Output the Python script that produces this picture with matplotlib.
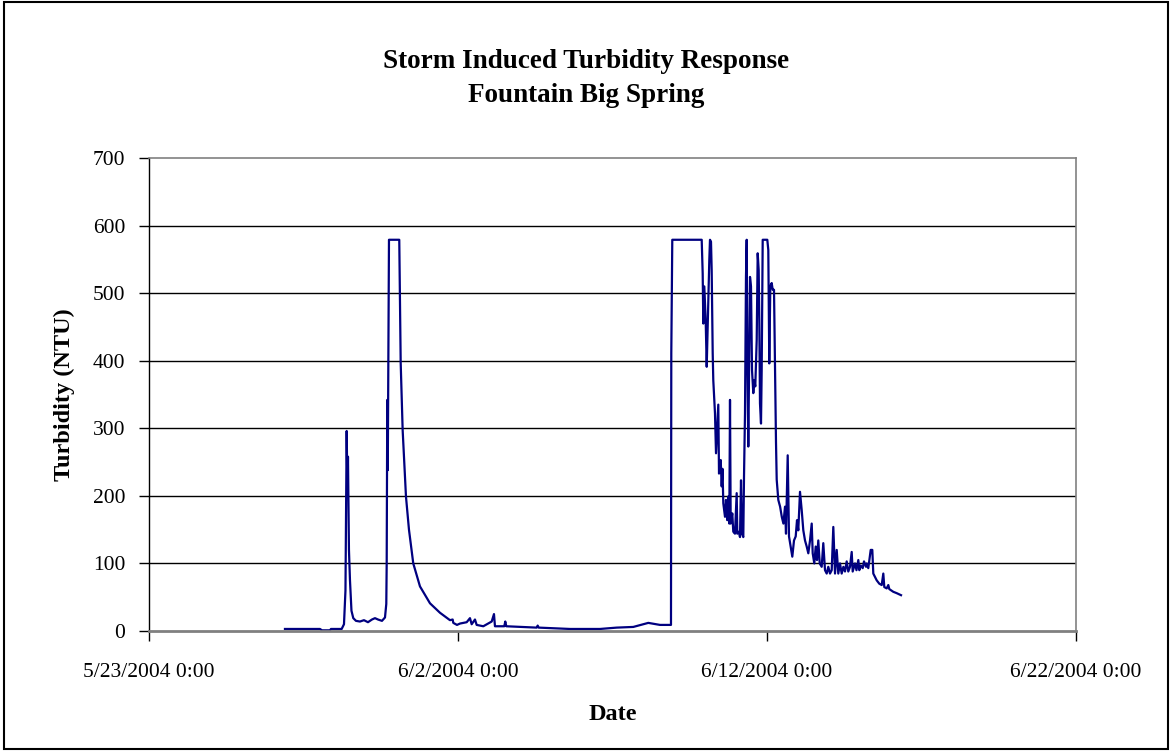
"""
Storm induced turbidity response at Fountain Big Spring,
drawn as an Excel-style line chart.
"""

from datetime import datetime, timedelta

import matplotlib
matplotlib.use("Agg")
import matplotlib.pyplot as plt
import matplotlib.dates as mdates
from matplotlib.patches import Rectangle

START = datetime(2004, 5, 23)

# days elapsed since 5/23/2004 0:00
elapsed_days = [
    # first storm
    4.401, 5.534, 5.599, 5.858, 5.890, 6.236, 6.311, 6.359, 6.398, 6.424,
    6.440, 6.472, 6.505, 6.553, 6.612, 6.699, 6.828, 6.958, 7.087, 7.217,
    7.314, 7.411, 7.540, 7.638, 7.680, 7.693, 7.712, 7.728, 7.767, 8.100,
    8.123, 8.146, 8.210, 8.317, 8.414, 8.553, 8.770, 9.094, 9.417, 9.741,
    9.828, 9.848, 9.968,
    # base flow
    10.065, 10.282, 10.388, 10.443, 10.550, 10.605, 10.819, 11.091, 11.165,
    11.197, 11.498, 11.531, 11.563, 12.547, 12.579, 12.612, 13.625, 14.595,
    15.136, 15.673, 16.159, 16.537, 16.883,
    # second storm
    16.893, 16.903, 16.935, 17.887, 17.919, 17.939, 17.971, 18.016, 18.049,
    18.100, 18.133, 18.155, 18.188, 18.210, 18.243, 18.262, 18.317, 18.350,
    18.424, 18.447, 18.502, 18.534, 18.560, 18.586, 18.641, 18.673, 18.715,
    18.748, 18.780, 18.803, 18.825, 18.877, 18.909, 18.964, 19.019, 19.039,
    19.094, 19.126, 19.159, 19.191, 19.233, 19.256, 19.288, 19.320, 19.343,
    19.362, 19.395, 19.427, 19.450, 19.482, 19.515, 19.557, 19.589, 19.621,
    19.667, 19.699, 19.731, 19.751, 19.773, 19.806, 19.828, 19.861, 20.010,
    20.042, 20.074, 20.107, 20.152, 20.184, 20.227, 20.259,
    # recession
    20.291, 20.314, 20.366, 20.424, 20.479, 20.531, 20.583, 20.615, 20.670,
    20.712, 20.767, 20.819, 20.874, 20.929, 20.971, 21.013, 21.068, 21.123,
    21.175, 21.230, 21.285, 21.337, 21.392, 21.447, 21.479, 21.531, 21.576,
    21.618, 21.660, 21.706, 21.770, 21.822, 21.877, 21.932, 21.984, 22.039,
    22.094, 22.146, 22.201, 22.256, 22.307, 22.362, 22.417, 22.472, 22.524,
    22.579, 22.631, 22.686, 22.741, 22.773, 22.848, 22.896, 22.955, 22.987,
    23.032, 23.097, 23.139, 23.204, 23.227, 23.278, 23.356, 23.408, 23.440,
    23.495, 23.550, 23.634, 23.712, 23.764, 23.796, 23.874, 23.926, 23.958,
    24.087, 24.197, 24.337,
]

turbidity = [
    # first storm
    3, 3, 1, 1, 3, 3, 10, 60, 296, 200,
    258, 120, 75, 30, 19, 15, 14, 16, 13, 17,
    19, 17, 15, 20, 40, 100, 342, 238, 579, 579,
    490, 397, 297, 199, 150, 100, 66, 41, 27, 16,
    17, 12, 9,
    # base flow
    11, 13, 19, 10, 17, 9, 7, 14, 25,
    7, 7, 14, 7, 5, 8, 5, 3, 3,
    5, 6, 12, 9, 9,
    # second storm
    9, 411, 579, 579, 529, 455, 510, 460, 391,
    485, 549, 579, 576, 534, 411, 371, 322, 263,
    335, 233, 253, 214, 240, 189, 169, 194, 164,
    199, 159, 342, 159, 174, 147, 144, 204, 144,
    147, 139, 223, 144, 139, 228, 322, 524, 579,
    411, 273, 421, 524, 510, 386, 352, 371, 362,
    431, 559, 534, 460, 337, 307, 386, 579, 579,
    564, 396, 510, 515, 505, 505, 386,
    # recession
    280, 224, 194, 184, 169, 159, 184, 144, 260,
    140, 125, 110, 134, 140, 164, 149, 206, 179,
    149, 134, 125, 115, 134, 159, 115, 100, 125,
    105, 134, 100, 95, 130, 90, 85, 95, 85,
    90, 154, 85, 120, 85, 100, 85, 95, 88,
    103, 88, 95, 117, 88, 100, 90, 105, 90,
    97, 93, 103, 95, 100, 93, 120, 120, 85,
    80, 75, 70, 68, 85, 65, 63, 68, 62,
    58, 56, 53,
]

tick_days = [0, 10, 20, 30]
y_ticks = [0, 100, 200, 300, 400, 500, 600, 700]

plt.rcParams["font.family"] = ["Liberation Serif", "DejaVu Serif"]

fig = plt.figure(figsize=(11.72, 7.51), dpi=100)
ax = fig.add_axes([0.1271, 0.1598, 0.7910, 0.6298])

times = [START + timedelta(days=d) for d in elapsed_days]
ax.plot(times, turbidity, color="#000080", linewidth=1.6)

ax.set_xlim(START, START + timedelta(days=30))
ax.set_ylim(0, 700)

tick_dates = [START + timedelta(days=d) for d in tick_days]
ax.set_xticks([mdates.date2num(t) for t in tick_dates])
ax.set_xticklabels([f"{t.month}/{t.day}/{t.year} 0:00" for t in tick_dates])
ax.set_yticks(y_ticks)

ax.tick_params(axis="x", direction="out", length=7, width=1, pad=16,
               labelsize=15.5, color="black")
ax.tick_params(axis="y", direction="out", length=7, width=1, pad=10,
               labelsize=15.5, color="black")

for y in y_ticks[1:-1]:
    ax.axhline(y, color="black", linewidth=1, zorder=0)

ax.spines["left"].set_color("black")
ax.spines["left"].set_linewidth(1)
ax.spines["bottom"].set_color("#808080")
ax.spines["bottom"].set_linewidth(2)
ax.spines["top"].set_color("#808080")
ax.spines["top"].set_linewidth(1.2)
ax.spines["right"].set_color("#808080")
ax.spines["right"].set_linewidth(1.2)

ax.set_xlabel("Date", fontsize=17.5, fontweight="bold", labelpad=16)
ax.set_ylabel("Turbidity (NTU)", fontsize=17.5, fontweight="bold", labelpad=13)

fig.text(0.5, 1 - 61 / 751, "Storm Induced Turbidity Response",
         ha="center", va="center", fontsize=19.5, fontweight="bold")
fig.text(0.5, 1 - 96 / 751, "Fountain Big Spring",
         ha="center", va="center", fontsize=19.5, fontweight="bold")

fig.patches.append(Rectangle((0.003, 0.003), 0.994, 0.994, transform=fig.transFigure,
                             fill=False, edgecolor="black", linewidth=1.5))

fig.savefig("out.png", dpi=100)
